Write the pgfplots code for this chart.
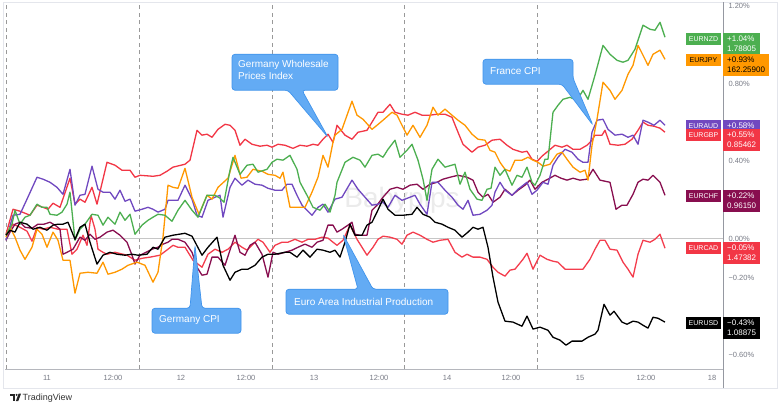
\documentclass[border=0pt]{standalone}
\usepackage{pgfplots}
\pgfplotsset{compat=1.18}
\usepackage{fontspec}
\setmainfont{Liberation Sans}
\definecolor{cNZD}{HTML}{4CAF50}
\definecolor{cJPY}{HTML}{FF9800}
\definecolor{cAUD}{HTML}{7048C0}
\definecolor{cGBP}{HTML}{F23645}
\definecolor{cCHF}{HTML}{880E4F}
\definecolor{cCAD}{HTML}{F43D4D}
\definecolor{cUSD}{HTML}{000000}
\definecolor{tvgray}{HTML}{787B86}
\definecolor{axgray}{HTML}{9598A1}
\definecolor{frame}{HTML}{E4E6EC}
\definecolor{cfill}{RGB}{99,171,244}
\definecolor{cedge}{RGB}{64,148,236}
\newcommand{\namebox}[4]{%
  \fill[#2] (686,#1) rectangle (721,#1-12);
  \node[text=#3, font=\fontsize{7}{8}\selectfont, inner sep=0] at (703.5,#1-6) {#4};}
\newcommand{\valbox}[6]{%
  \fill[#2] (723,#1) rectangle (#6,#1-22);
  \node[text=#3, font=\fontsize{8}{9}\selectfont, inner sep=0, anchor=west] at (727,#1-5.5) {#4};
  \node[text=#3, font=\fontsize{8}{9}\selectfont, inner sep=0, anchor=west] at (727,#1-16) {#5};}
\begin{document}
\begin{tikzpicture}[x=1pt,y=1pt]
\fill[white] (0,0) rectangle (780,411);
\draw[frame, line width=0.8pt] (3,25) rectangle (777,410.5);
\node[text=gray!16, font=\fontsize{28}{30}\selectfont] at (402,213) {Babypips};
\begin{axis}[
  at={(5pt,44pt)}, anchor=south west,
  scale only axis, width=718pt, height=365pt,
  xmin=5, xmax=723, ymin=-0.673, ymax=1.209,
  axis line style={draw=none},
  major tick length=0pt,
  xtick={47,113,181,246,314,379,447,511,580,646,712},
  xticklabels={11,12:00,12,12:00,13,12:00,14,12:00,15,12:00,18},
  ytick={-0.6,-0.2,0,0.4,0.8,1.2},
  yticklabels={−0.60\%,−0.20\%,0.00\%,0.40\%,0.80\%,1.20\%},
  yticklabel pos=right,
  tick label style={font=\fontsize{7.5}{8}\selectfont, text=tvgray},
  xticklabel style={yshift=-2.5pt},
  yticklabel style={anchor=west, xshift=2pt},
  extra x ticks={6,139,272,404,537},
  extra x tick labels={},
  extra x tick style={grid=major, major grid style={dash pattern=on 4pt off 3.5pt, color=gray!80, line width=0.7pt}},
  extra y ticks={0},
  extra y tick labels={},
  extra y tick style={grid=major, major grid style={color=gray!45, line width=0.7pt}},
  every axis plot/.append style={line width=1.3pt, line join=round, mark=none},
]
\addplot[cCAD] coordinates {(6,0.018)(13,0.075)(20,0.059)(27,0.039)(32,-0.013)(37,0.059)(43,0.049)(50,0.059)(58,0.049)(67,0.049)(72,-0.080)(77,-0.054)(83,0.018)(87,-0.034)(91,0.121)(95,0.049)(98,-0.054)(103,-0.070)(107,-0.080)(115,-0.070)(127,-0.085)(135,-0.111)(142,-0.101)(150,-0.095)(160,-0.085)(168,-0.054)(173,-0.034)(178,-0.044)(185,-0.044)(193,-0.111)(202,-0.147)(208,-0.080)(215,-0.054)(222,-0.070)(228,-0.054)(235,-0.018)(242,-0.044)(247,-0.059)(253,-0.028)(258,-0.003)(263,-0.018)(270,-0.070)(275,-0.034)(282,-0.018)(288,-0.018)(295,-0.003)(302,-0.018)(308,-0.003)(315,-0.003)(322,0.008)(328,0.003)(333,-0.018)(337,-0.034)(343,-0.008)(350,0.070)(357,-0.003)(362,-0.044)(367,-0.085)(373,-0.044)(378,-0.003)(383,0.013)(390,0.008)(397,-0.003)(402,-0.028)(407,0.018)(413,0.034)(420,0.018)(427,-0.003)(433,-0.018)(440,-0.008)(448,-0.003)(455,-0.070)(462,-0.095)(467,-0.080)(473,-0.095)(480,-0.095)(487,-0.106)(493,-0.147)(498,-0.173)(505,-0.193)(510,-0.162)(515,-0.157)(523,-0.106)(527,-0.075)(533,-0.157)(540,-0.085)(547,-0.106)(553,-0.116)(558,-0.121)(565,-0.157)(572,-0.157)(578,-0.157)(583,-0.157)(590,-0.106)(595,-0.054)(600,-0.008)(605,-0.008)(610,-0.054)(617,-0.059)(623,-0.121)(628,-0.157)(633,-0.198)(638,-0.080)(643,-0.008)(650,-0.018)(655,-0.003)(660,0.023)(665,-0.049)};
\addplot[cGBP] coordinates {(6,0.023)(13,0.152)(20,0.142)(30,0.121)(37,0.173)(43,0.162)(48,0.152)(53,0.183)(60,0.162)(70,0.312)(75,0.178)(80,0.204)(85,0.188)(92,0.265)(97,0.178)(107,0.394)(115,0.379)(122,0.353)(130,0.353)(135,0.317)(140,0.327)(153,0.322)(160,0.327)(167,0.348)(173,0.369)(185,0.384)(190,0.405)(197,0.559)(202,0.534)(207,0.539)(212,0.523)(218,0.564)(225,0.590)(230,0.585)(235,0.559)(240,0.482)(245,0.513)(252,0.487)(260,0.477)(267,0.482)(272,0.472)(278,0.487)(285,0.482)(293,0.466)(300,0.482)(307,0.477)(313,0.487)(318,0.482)(323,0.513)(328,0.539)(333,0.497)(337,0.585)(345,0.534)(352,0.513)(358,0.549)(367,0.559)(372,0.601)(378,0.652)(383,0.652)(390,0.693)(395,0.652)(402,0.642)(408,0.637)(415,0.652)(422,0.637)(430,0.637)(437,0.642)(445,0.642)(452,0.626)(458,0.549)(463,0.487)(472,0.446)(478,0.472)(485,0.482)(492,0.508)(500,0.513)(507,0.482)(513,0.461)(522,0.446)(527,0.451)(532,0.410)(537,0.399)(543,0.430)(548,0.451)(555,0.482)(562,0.472)(567,0.482)(573,0.461)(580,0.461)(587,0.482)(592,0.508)(595,0.534)(602,0.534)(605,0.559)(610,0.487)(618,0.482)(625,0.487)(632,0.513)(638,0.559)(643,0.601)(648,0.585)(654,0.580)(660,0.570)(665,0.549)};
\addplot[cCHF] coordinates {(6,-0.008)(10,0.034)(15,0.075)(20,0.085)(25,0.059)(32,0.054)(38,0.075)(44,0.075)(50,0.085)(55,0.070)(60,0.049)(63,-0.080)(67,-0.070)(73,-0.054)(80,0.008)(85,-0.008)(90,0.023)(95,-0.003)(100,0.008)(107,0.034)(113,0.044)(120,0.018)(127,-0.018)(132,-0.085)(135,-0.131)(140,-0.085)(146,-0.070)(152,-0.054)(158,-0.044)(163,-0.028)(168,-0.018)(172,-0.003)(178,-0.003)(185,-0.018)(192,-0.070)(197,-0.147)(202,-0.188)(207,-0.183)(212,-0.095)(218,-0.095)(225,-0.137)(230,-0.059)(235,0.018)(240,-0.070)(245,-0.085)(250,-0.034)(255,-0.018)(262,-0.080)(268,-0.198)(273,-0.070)(278,-0.080)(285,-0.070)(292,-0.059)(298,-0.044)(305,-0.028)(312,-0.044)(317,-0.018)(323,-0.008)(328,0.070)(333,0.070)(337,0.034)(342,0.049)(348,0.070)(352,0.085)(355,0.023)(360,0.018)(367,0.018)(372,0.147)(377,0.173)(383,0.214)(390,0.255)(397,0.265)(403,0.255)(410,0.276)(417,0.281)(423,0.255)(430,0.281)(437,0.291)(443,0.307)(450,0.317)(458,0.327)(467,0.317)(473,0.302)(478,0.240)(483,0.214)(488,0.229)(493,0.188)(500,0.214)(505,0.255)(512,0.224)(518,0.250)(525,0.276)(530,0.302)(535,0.255)(542,0.291)(548,0.307)(555,0.327)(561,0.312)(567,0.302)(573,0.312)(580,0.302)(587,0.307)(593,0.358)(600,0.302)(610,0.291)(616,0.152)(622,0.173)(627,0.173)(633,0.229)(638,0.291)(643,0.307)(648,0.302)(653,0.327)(660,0.291)(665,0.224)};
\addplot[cAUD] coordinates {(6,-0.008)(13,0.121)(20,0.126)(27,0.204)(37,0.317)(43,0.307)(50,0.291)(57,0.265)(63,0.229)(70,0.358)(75,0.173)(80,0.224)(85,0.229)(92,0.374)(98,0.255)(103,0.240)(110,0.240)(115,0.204)(120,0.250)(125,0.193)(130,0.204)(135,0.142)(142,0.152)(148,0.162)(153,0.152)(158,0.137)(165,0.152)(168,0.198)(173,0.198)(178,0.198)(185,0.276)(192,0.204)(197,0.121)(202,0.111)(208,0.198)(215,0.214)(220,0.224)(223,0.111)(230,0.265)(235,0.312)(242,0.276)(248,0.302)(255,0.281)(262,0.276)(268,0.260)(275,0.250)(282,0.250)(287,0.281)(292,0.281)(297,0.224)(302,0.173)(307,0.147)(312,0.121)(318,0.162)(323,0.178)(328,0.137)(335,0.204)(342,0.214)(352,0.302)(358,0.255)(365,0.214)(372,0.173)(378,0.178)(383,0.188)(388,0.162)(395,0.224)(402,0.198)(410,0.214)(415,0.224)(420,0.178)(427,0.126)(432,0.291)(438,0.291)(445,0.250)(452,0.214)(458,0.173)(463,0.152)(468,0.198)(473,0.121)(480,0.126)(487,0.147)(492,0.173)(495,0.240)(500,0.291)(505,0.250)(512,0.224)(518,0.255)(527,0.291)(532,0.229)(537,0.250)(543,0.291)(548,0.281)(553,0.379)(558,0.420)(565,0.461)(572,0.446)(578,0.410)(583,0.394)(588,0.394)(592,0.549)(597,0.611)(603,0.616)(608,0.564)(615,0.534)(622,0.539)(628,0.523)(633,0.534)(638,0.487)(643,0.611)(648,0.601)(654,0.585)(660,0.611)(665,0.585)};
\addplot[cJPY] coordinates {(6,0.008)(10,0.059)(15,0.008)(20,-0.059)(25,-0.106)(32,-0.044)(37,0.049)(42,0.023)(47,-0.044)(53,0.034)(58,-0.008)(63,-0.111)(70,-0.111)(75,-0.281)(80,-0.178)(88,-0.173)(97,-0.178)(103,-0.121)(108,-0.183)(115,-0.173)(122,-0.157)(128,-0.137)(137,-0.121)(145,-0.137)(153,-0.224)(158,-0.173)(163,0.008)(168,0.276)(173,0.265)(178,0.260)(185,0.363)(192,0.214)(199,0.126)(207,0.224)(212,0.204)(218,0.265)(228,0.312)(235,0.430)(241,0.312)(247,0.317)(253,0.358)(262,0.348)(268,0.332)(275,0.327)(280,0.312)(283,0.343)(290,0.162)(298,0.162)(305,0.162)(312,0.240)(318,0.317)(323,0.430)(328,0.369)(333,0.497)(335,0.534)(342,0.564)(352,0.709)(357,0.637)(363,0.616)(372,0.564)(377,0.585)(383,0.611)(392,0.652)(397,0.637)(402,0.585)(407,0.534)(413,0.585)(420,0.523)(427,0.585)(433,0.678)(438,0.637)(445,0.668)(452,0.637)(458,0.611)(465,0.585)(472,0.539)(478,0.513)(485,0.508)(490,0.456)(495,0.446)(500,0.394)(505,0.358)(510,0.348)(515,0.405)(522,0.405)(528,0.420)(533,0.405)(538,0.394)(543,0.374)(550,0.384)(557,0.436)(562,0.446)(567,0.410)(573,0.369)(580,0.343)(585,0.353)(588,0.302)(592,0.482)(597,0.616)(603,0.807)(610,0.765)(615,0.719)(622,0.765)(628,0.848)(633,0.894)(638,0.997)(643,0.946)(648,0.894)(653,0.951)(660,0.972)(665,0.925)};
\addplot[cNZD] coordinates {(6,0.018)(12,0.075)(15,0.147)(20,0.075)(25,0.111)(30,0.121)(37,0.178)(42,0.162)(47,0.162)(50,0.126)(57,0.121)(62,0.137)(67,0.178)(70,0.240)(75,-0.008)(80,0.049)(85,0.075)(92,0.126)(98,0.121)(103,0.070)(108,0.111)(115,0.075)(120,0.137)(125,0.095)(130,0.126)(135,0.023)(142,0.070)(148,0.095)(153,0.111)(158,0.126)(165,0.121)(172,0.090)(178,0.147)(185,0.198)(192,0.147)(198,0.111)(207,0.224)(215,0.224)(220,0.209)(224,0.188)(230,0.353)(233,0.420)(240,0.332)(247,0.379)(253,0.384)(258,0.343)(267,0.358)(272,0.394)(277,0.410)(283,0.405)(290,0.430)(297,0.358)(300,0.291)(307,0.224)(313,0.162)(320,0.147)(325,0.178)(330,0.137)(335,0.224)(337,0.291)(345,0.394)(353,0.420)(360,0.405)(365,0.369)(372,0.430)(378,0.436)(383,0.420)(388,0.461)(395,0.508)(400,0.420)(407,0.456)(412,0.487)(418,0.405)(423,0.307)(427,0.198)(432,0.358)(438,0.410)(445,0.369)(455,0.384)(460,0.281)(465,0.343)(470,0.255)(477,0.204)(482,0.198)(487,0.255)(491,0.260)(495,0.369)(500,0.327)(505,0.358)(512,0.276)(517,0.327)(522,0.317)(527,0.369)(532,0.291)(535,0.276)(540,0.327)(545,0.410)(548,0.410)(553,0.652)(558,0.688)(563,0.719)(570,0.729)(577,0.714)(583,0.765)(588,0.719)(595,0.843)(603,0.997)(610,0.951)(617,0.920)(623,0.910)(628,0.920)(635,0.977)(643,1.101)(650,1.080)(655,1.075)(660,1.116)(665,1.039)};
\addplot[cUSD] coordinates {(6,0.018)(10,0.044)(15,0.034)(20,0.085)(27,0.075)(33,0.049)(40,0.059)(47,0.044)(53,0.070)(58,0.075)(63,0.075)(68,0.085)(75,-0.003)(80,0.059)(85,0.075)(90,-0.018)(97,-0.131)(103,-0.085)(110,-0.070)(117,-0.080)(125,-0.085)(132,-0.080)(138,-0.085)(147,-0.080)(153,-0.044)(158,-0.054)(165,0.008)(173,0.018)(185,0.028)(192,0.013)(202,-0.085)(208,-0.044)(217,0.008)(223,-0.137)(230,-0.214)(235,-0.173)(242,-0.157)(248,-0.157)(255,-0.137)(262,-0.095)(268,-0.080)(275,-0.080)(285,-0.070)(290,-0.070)(297,-0.095)(303,-0.059)(310,-0.095)(317,-0.054)(323,-0.059)(330,-0.070)(335,-0.059)(340,-0.095)(345,-0.018)(350,0.075)(355,0.018)(362,0.018)(367,0.070)(372,0.085)(377,0.137)(383,0.204)(388,0.152)(395,0.121)(403,0.121)(412,0.126)(417,0.162)(423,0.126)(430,0.111)(435,0.085)(442,0.075)(448,0.059)(455,0.044)(462,0.008)(468,0.034)(473,0.059)(478,0.049)(483,0.059)(488,-0.044)(493,-0.198)(498,-0.327)(505,-0.425)(513,-0.430)(522,-0.451)(527,-0.399)(533,-0.466)(540,-0.456)(548,-0.472)(553,-0.508)(560,-0.523)(566,-0.549)(572,-0.528)(582,-0.528)(588,-0.508)(595,-0.492)(598,-0.472)(604,-0.338)(610,-0.394)(614,-0.374)(622,-0.430)(627,-0.441)(633,-0.425)(638,-0.430)(643,-0.446)(648,-0.461)(653,-0.405)(658,-0.410)(665,-0.430)};
\end{axis}
% axis lines
\draw[axgray!70, line width=0.8pt] (5,44) -- (723,44);
\draw[axgray, line width=0.8pt] (723,25) -- (723,411);
% callouts
\filldraw[fill=cfill, draw=cedge, line width=0.7pt, rounded corners=3pt] (232,359) -- (338,359) -- (338,323) -- (302,323) -- (328,276) -- (288,323) -- (232,323) -- cycle;
\node[anchor=west, inner sep=0, text=white, font=\fontsize{10}{11}\selectfont] at (238,348) {Germany Wholesale};
\node[anchor=west, inner sep=0, text=white, font=\fontsize{10}{11}\selectfont] at (238,337) {Prices Index};
\filldraw[fill=cfill, draw=cedge, line width=0.7pt, rounded corners=3pt] (483,354) -- (573,354) -- (573,335) -- (593,288) -- (562,329) -- (483,329) -- cycle;
\node[anchor=west, inner sep=0, text=white, font=\fontsize{10}{11}\selectfont] at (490,342) {France CPI};
\filldraw[fill=cfill, draw=cedge, line width=0.7pt, rounded corners=3pt] (152,105) -- (190,105) -- (195,168) -- (202,105) -- (241,105) -- (241,80) -- (152,80) -- cycle;
\node[anchor=west, inner sep=0, text=white, font=\fontsize{10}{11}\selectfont] at (159,93) {Germany CPI};
\filldraw[fill=cfill, draw=cedge, line width=0.7pt, rounded corners=3pt] (286,124) -- (358,124) -- (343,179) -- (373,124) -- (448,124) -- (448,99) -- (286,99) -- cycle;
\node[anchor=west, inner sep=0, text=white, font=\fontsize{10}{11}\selectfont] at (294,111) {Euro Area Industrial Production};
% price labels
\namebox{380}{cNZD}{white}{EURNZD}
\valbox{380}{cNZD}{white}{+1.04\%}{1.78805}{760}
\namebox{359}{cJPY}{black}{EURJPY}
\valbox{359}{cJPY}{black}{+0.93\%}{162.25900}{769}
\namebox{293}{cAUD}{white}{EURAUD}
\valbox{293}{cAUD}{white}{+0.58\%}{}{760}
\namebox{284}{cGBP}{white}{EURGBP}
\valbox{284}{cGBP}{white}{+0.55\%}{0.85462}{760}
\namebox{223}{cCHF}{white}{EURCHF}
\valbox{223}{cCHF}{white}{+0.22\%}{0.96150}{760}
\namebox{171}{cGBP}{white}{EURCAD}
\valbox{171}{cGBP}{white}{−0.05\%}{1.47382}{760}
\namebox{96}{cUSD}{white}{EURUSD}
\valbox{96}{cUSD}{white}{−0.43\%}{1.08875}{760}
% TradingView logo
\fill[black!85] (10,19.5) rectangle (15,17.5);
\fill[black!85] (12.8,17.5) rectangle (15,12);
\fill[black!85] (16.6,18.3) circle (1.1);
\fill[black!85] (18.6,19.5) -- (21,19.5) -- (18.2,12) -- (15.8,12) -- cycle;
\node[anchor=west, inner sep=0, text=black!80, font=\fontsize{9}{10}\selectfont] at (22.5,15.5) {TradingView};
\end{tikzpicture}
\end{document}
